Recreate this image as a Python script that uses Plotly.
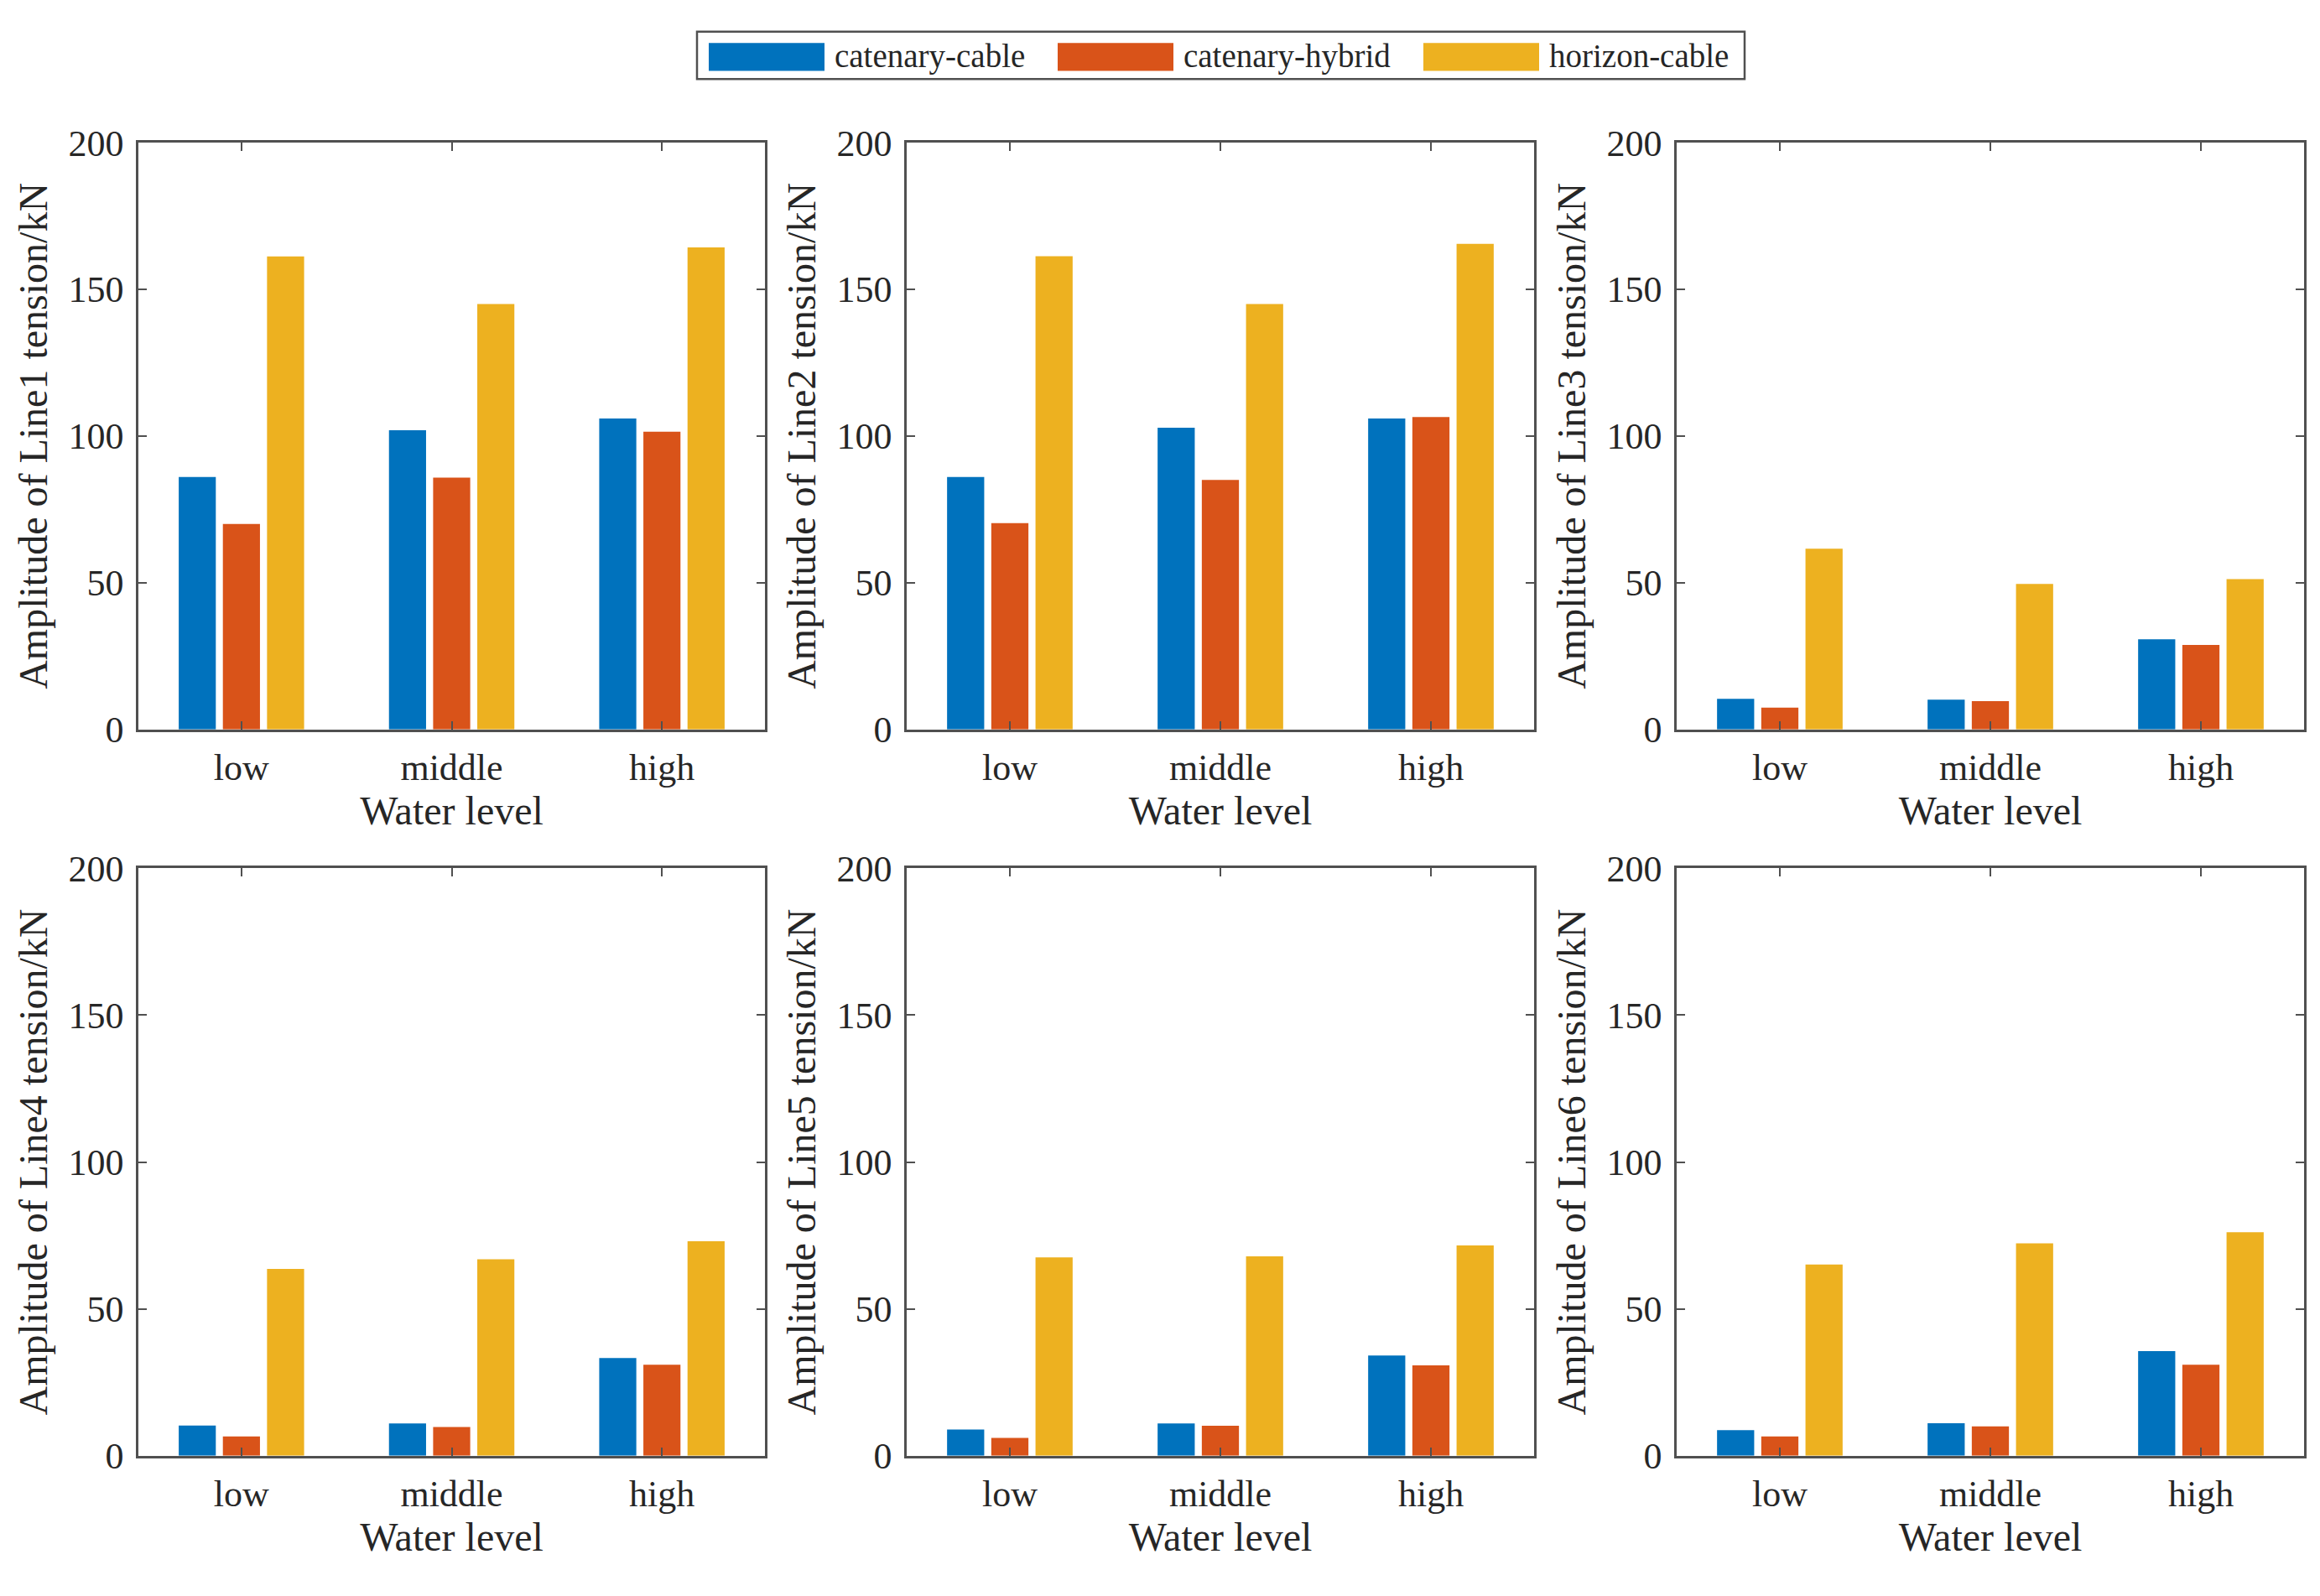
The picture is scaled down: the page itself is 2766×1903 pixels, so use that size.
import plotly.graph_objects as go

# ---------------- data ----------------
levels = ["low", "middle", "high"]
series_names = ["catenary-cable", "catenary-hybrid", "horizon-cable"]
series_colors = ["#0072BD", "#D95319", "#EDB120"]

line1_cat_cable = [86.0, 102.0, 106.0]
line1_cat_hybrid = [70.0, 85.8, 101.5]
line1_hor_cable = [161.2, 145.0, 164.3]

line2_cat_cable = [86.0, 102.8, 106.0]
line2_cat_hybrid = [70.3, 85.0, 106.5]
line2_hor_cable = [161.3, 145.0, 165.5]

line3_cat_cable = [10.4, 10.1, 30.7]
line3_cat_hybrid = [7.4, 9.6, 28.8]
line3_hor_cable = [61.6, 49.6, 51.2]

line4_cat_cable = [10.3, 11.0, 33.3]
line4_cat_hybrid = [6.6, 9.8, 31.0]
line4_hor_cable = [63.6, 66.9, 73.0]

line5_cat_cable = [8.9, 11.0, 34.1]
line5_cat_hybrid = [6.1, 10.2, 30.8]
line5_hor_cable = [67.5, 67.9, 71.6]

line6_cat_cable = [8.7, 11.1, 35.6]
line6_cat_hybrid = [6.6, 10.0, 31.0]
line6_hor_cable = [65.1, 72.3, 76.1]

y_titles = ["Amplitude of Line1 tension/kN", "Amplitude of Line2 tension/kN",
            "Amplitude of Line3 tension/kN", "Amplitude of Line4 tension/kN",
            "Amplitude of Line5 tension/kN", "Amplitude of Line6 tension/kN"]
x_title = "Water level"
y_tickvals = [0, 50, 100, 150, 200]

panels = [
    [line1_cat_cable, line1_cat_hybrid, line1_hor_cable],
    [line2_cat_cable, line2_cat_hybrid, line2_hor_cable],
    [line3_cat_cable, line3_cat_hybrid, line3_hor_cable],
    [line4_cat_cable, line4_cat_hybrid, line4_hor_cable],
    [line5_cat_cable, line5_cat_hybrid, line5_hor_cable],
    [line6_cat_cable, line6_cat_hybrid, line6_hor_cable],
]

# ---------------- layout geometry ----------------
W, H = 2766, 1903
col_px = [(165, 912), (1081, 1829), (1999, 2747)]
row_px = [(150, 868), (1038, 1757)]

FONT = "Liberation Serif"
TXT = "#262626"
AX = "#505050"

fig = go.Figure()
layout = {}
for i, vals in enumerate(panels):
    r, c = divmod(i, 3)
    n = i + 1
    xa = "x" if n == 1 else f"x{n}"
    ya = "y" if n == 1 else f"y{n}"
    for s in range(3):
        fig.add_trace(go.Bar(
            x=levels, y=vals[s], name=series_names[s],
            marker=dict(color=series_colors[s], line=dict(width=0)),
            xaxis=xa, yaxis=ya, showlegend=False, offsetgroup=str(s),
        ))
    x0, x1 = col_px[c]
    y0, y1 = row_px[r]
    common = dict(
        showline=True, linecolor=AX, linewidth=2.5, mirror="ticks",
        ticks="inside", tickcolor=AX, tickwidth=2, ticklen=10,
        showgrid=False, zeroline=False,
        tickfont=dict(family=FONT, size=44, color=TXT),
    )
    layout["xaxis" if n == 1 else f"xaxis{n}"] = dict(
        common, domain=[x0 / W, x1 / W], anchor=ya,
        type="category", categoryorder="array", categoryarray=levels,
        range=[-0.49, 2.49], ticklabelstandoff=5,
        title=dict(text=x_title, font=dict(family=FONT, size=48, color=TXT), standoff=7),
    )
    layout["yaxis" if n == 1 else f"yaxis{n}"] = dict(
        common, domain=[1 - y1 / H, 1 - y0 / H], anchor=xa,
        range=[0, 200], tickvals=y_tickvals, ticklabelstandoff=6,
        title=dict(text=y_titles[i], font=dict(family=FONT, size=48, color=TXT), standoff=10),
    )

# ---------------- legend (drawn box) ----------------
shapes = [dict(type="rect", xref="paper", yref="paper",
               x0=831 / W, x1=2080 / W, y0=1 - 72 / H, y1=1 - 14 / H,
               line=dict(color=AX, width=2.5), fillcolor="white", layer="above")]
annotations = []
patch_x = [845, 1261, 1697]
for s in range(3):
    px = patch_x[s]
    shapes.append(dict(type="rect", xref="paper", yref="paper",
                       x0=px / W, x1=(px + 138) / W, y0=1 - 62 / H, y1=1 - 28 / H,
                       line=dict(width=0), fillcolor=series_colors[s], layer="above"))
    annotations.append(dict(text=series_names[s], xref="paper", yref="paper",
                            x=(px + 148) / W, y=1 - 44 / H, xanchor="left", yanchor="middle",
                            showarrow=False, font=dict(family=FONT, size=39, color=TXT)))

fig.update_layout(
    width=W, height=H, margin=dict(l=0, r=0, t=0, b=0),
    paper_bgcolor="white", plot_bgcolor="white",
    barmode="group", bargap=0.37, bargroupgap=0.16,
    showlegend=False, shapes=shapes, annotations=annotations,
    font=dict(family=FONT, color=TXT),
    **layout,
)

fig.write_html("out.html",
               config={"displayModeBar": False},
               post_script="document.body.style.margin='0';document.body.style.overflow='hidden';")
